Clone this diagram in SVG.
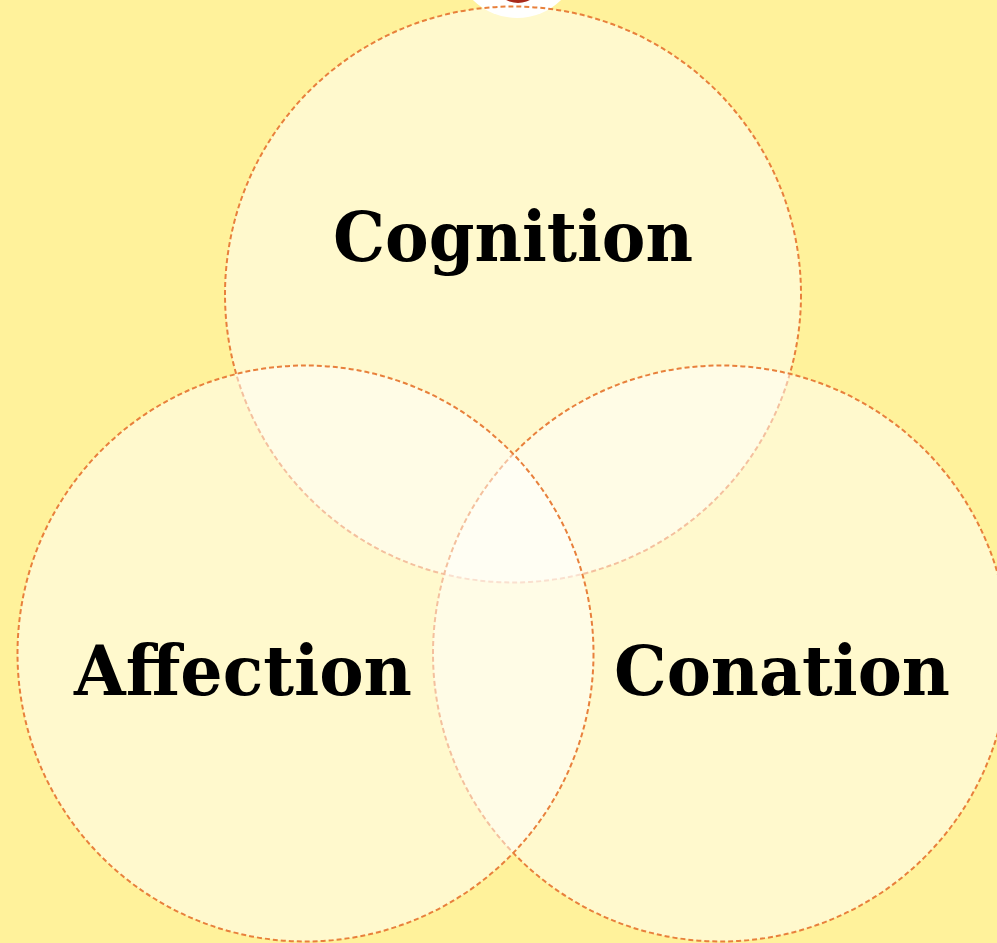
<svg xmlns="http://www.w3.org/2000/svg" width="997" height="943" viewBox="0 0 997 943">
<style>
.set{fill:#ffffff;fill-opacity:0.5;stroke:#e8803c;stroke-width:2;stroke-dasharray:5 3}
.lbl{font-family:"DejaVu Serif","Liberation Serif",serif;font-weight:bold;font-size:70px;fill:#000;text-anchor:middle}
</style>
<rect width="997" height="943" fill="#fff29b"/>
<g id="top-marker">
<circle cx="517" cy="-45" r="63" fill="#ffffff"/>
<ellipse cx="518" cy="-16" rx="22" ry="19" fill="#a82a1c"/>
</g>
<g id="cognition">
<circle class="set" cx="513" cy="294.5" r="288"/>
</g>
<g id="conation">
<circle class="set" cx="721" cy="653.5" r="288"/>
</g>
<g id="affection">
<circle class="set" cx="305.5" cy="653.5" r="288"/>
</g>
<g id="labels">
<text class="lbl" x="513" y="261" textLength="360" lengthAdjust="spacingAndGlyphs">Cognition</text>
<text class="lbl" x="243" y="695" textLength="338" lengthAdjust="spacingAndGlyphs">Affection</text>
<text class="lbl" x="782" y="695" textLength="336" lengthAdjust="spacingAndGlyphs">Conation</text>
</g>
<g id="connectors"></g>
</svg>
